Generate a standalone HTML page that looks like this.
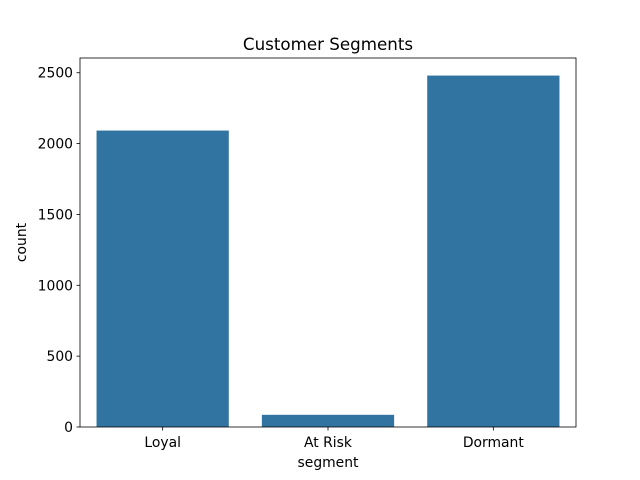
<!DOCTYPE html>
<html><head><meta charset="utf-8"><style>
body{margin:0;background:#fff;}
svg{display:block;font-family:"DejaVu Sans","Liberation Sans",sans-serif;}
</style></head><body>
<svg id="chart" width="640" height="480">
<rect width="640" height="480" fill="#fff"/>
</svg>
<script>
const categories = ["Loyal","At Risk","Dormant"];
const counts = [2092, 86, 2480];
const yTicks = [0,500,1000,1500,2000,2500];
const NS="http://www.w3.org/2000/svg";
const svg=document.getElementById('chart');
const L=80,R=576,T=58,B=427;
const yMax=Math.max(...counts)*1.05;
const y=v=>B-(v/yMax)*(B-T);
const band=(R-L)/categories.length;
const x=i=>L+band*(i+0.5);
function mk(t,a,txt){const e=document.createElementNS(NS,t);for(const k in a)e.setAttribute(k,a[k]);if(txt!==undefined)e.textContent=txt;svg.appendChild(e);return e;}
categories.forEach((c,i)=>{
  const bw=band*0.8;
  const r=mk('rect',{x:x(i)-bw/2,y:y(counts[i]),width:bw,height:B-y(counts[i]),fill:'#3274a1'});
  
  
  mk('line',{x1:x(i),x2:x(i),y1:B,y2:B+3.5,stroke:'#000','stroke-width':0.8});
  const t=mk('text',{x:x(i),y:B+20,'text-anchor':'middle','font-size':13.9},c);
  
  
});
yTicks.forEach(v=>{
  mk('line',{x1:L-3.5,x2:L,y1:y(v),y2:y(v),stroke:'#000','stroke-width':0.8});
  const t=mk('text',{x:L-7,y:y(v)+5,'text-anchor':'end','font-size':13.9},v);
  
  
});
const fr=mk('rect',{x:L,y:T,width:R-L,height:B-T,fill:'none',stroke:'#000','stroke-width':0.8});


const tt=mk('text',{x:(L+R)/2,y:T-8,'text-anchor':'middle','font-size':16.7},'Customer Segments');


const xt=mk('text',{x:(L+R)/2,y:B+40,'text-anchor':'middle','font-size':13.9},'segment');


const yt=mk('text',{x:0,y:0,'text-anchor':'middle','font-size':13.9,transform:`translate(26,${(T+B)/2}) rotate(-90)`},'count');


</script>
</body></html>
